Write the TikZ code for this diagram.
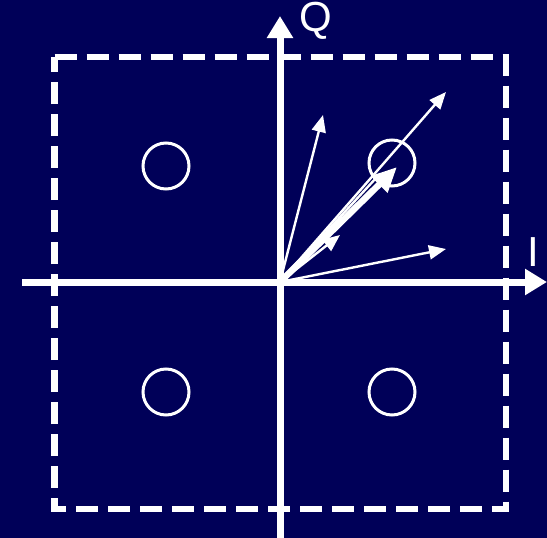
\documentclass[tikz,border=0pt]{standalone}
\usepackage{fontspec}
\setmainfont{Liberation Sans}
\usetikzlibrary{arrows.meta}
\definecolor{bgnavy}{RGB}{0,0,88}
\tikzset{
  axis/.style={white, line width=7pt, -{Triangle[length=22pt,width=25pt]}},
  vec/.style={white, line width=2.4pt, -{Triangle[length=17pt,width=14pt]}},
  bigvec/.style={white, line width=6.5pt, -{Triangle[length=25pt,width=22pt]}},
  pt/.style={circle, draw=white, line width=3pt, minimum size=46pt, inner sep=0pt},
  lbl/.style={text=white, font=\fontsize{42}{42}\selectfont, inner sep=0pt},
  frame/.style={white, line width=6.5pt, dash pattern=on 22pt off 10pt}
}
\begin{document}
\begin{tikzpicture}[x=1pt,y=-1pt]
\fill[bgnavy] (0,0) rectangle (547,538);
\useasboundingbox (0,0) rectangle (547,538);
\draw[frame] (54.5,57) -- (506,57) -- (506,509) -- (54.5,509) -- cycle;
\coordinate (o) at (280,282);
\coordinate (xl) at (22,282);
\coordinate (xr) at (547,282);
\coordinate (yb) at (280,538);
\coordinate (yt) at (280,16);
\draw[axis] (xl) -- (xr);
\draw[axis] (yb) -- (yt);
\node[pt] (c1) at (166,166) {};
\node[pt] (c2) at (392,163) {};
\node[pt] (c3) at (166,392) {};
\node[pt] (c4) at (392,392) {};
\node[lbl] (q) at (316,21) {Q};
\node[lbl] (i) at (533,252) {I};
\coordinate (v1) at (323,115);
\coordinate (v2) at (446,92);
\coordinate (v3) at (446,249);
\coordinate (v4) at (397,167);
\coordinate (v5) at (340,235);
\coordinate (v6) at (377,177);
\draw[vec] (o) -- (v1);
\draw[vec] (o) -- (v2);
\draw[vec] (o) -- (v3);
\draw[white, line width=2.4pt] (o) -- (v6);
\draw[bigvec] (o) -- (v4);
\draw[vec] (o) -- (v5);
\end{tikzpicture}
\end{document}
